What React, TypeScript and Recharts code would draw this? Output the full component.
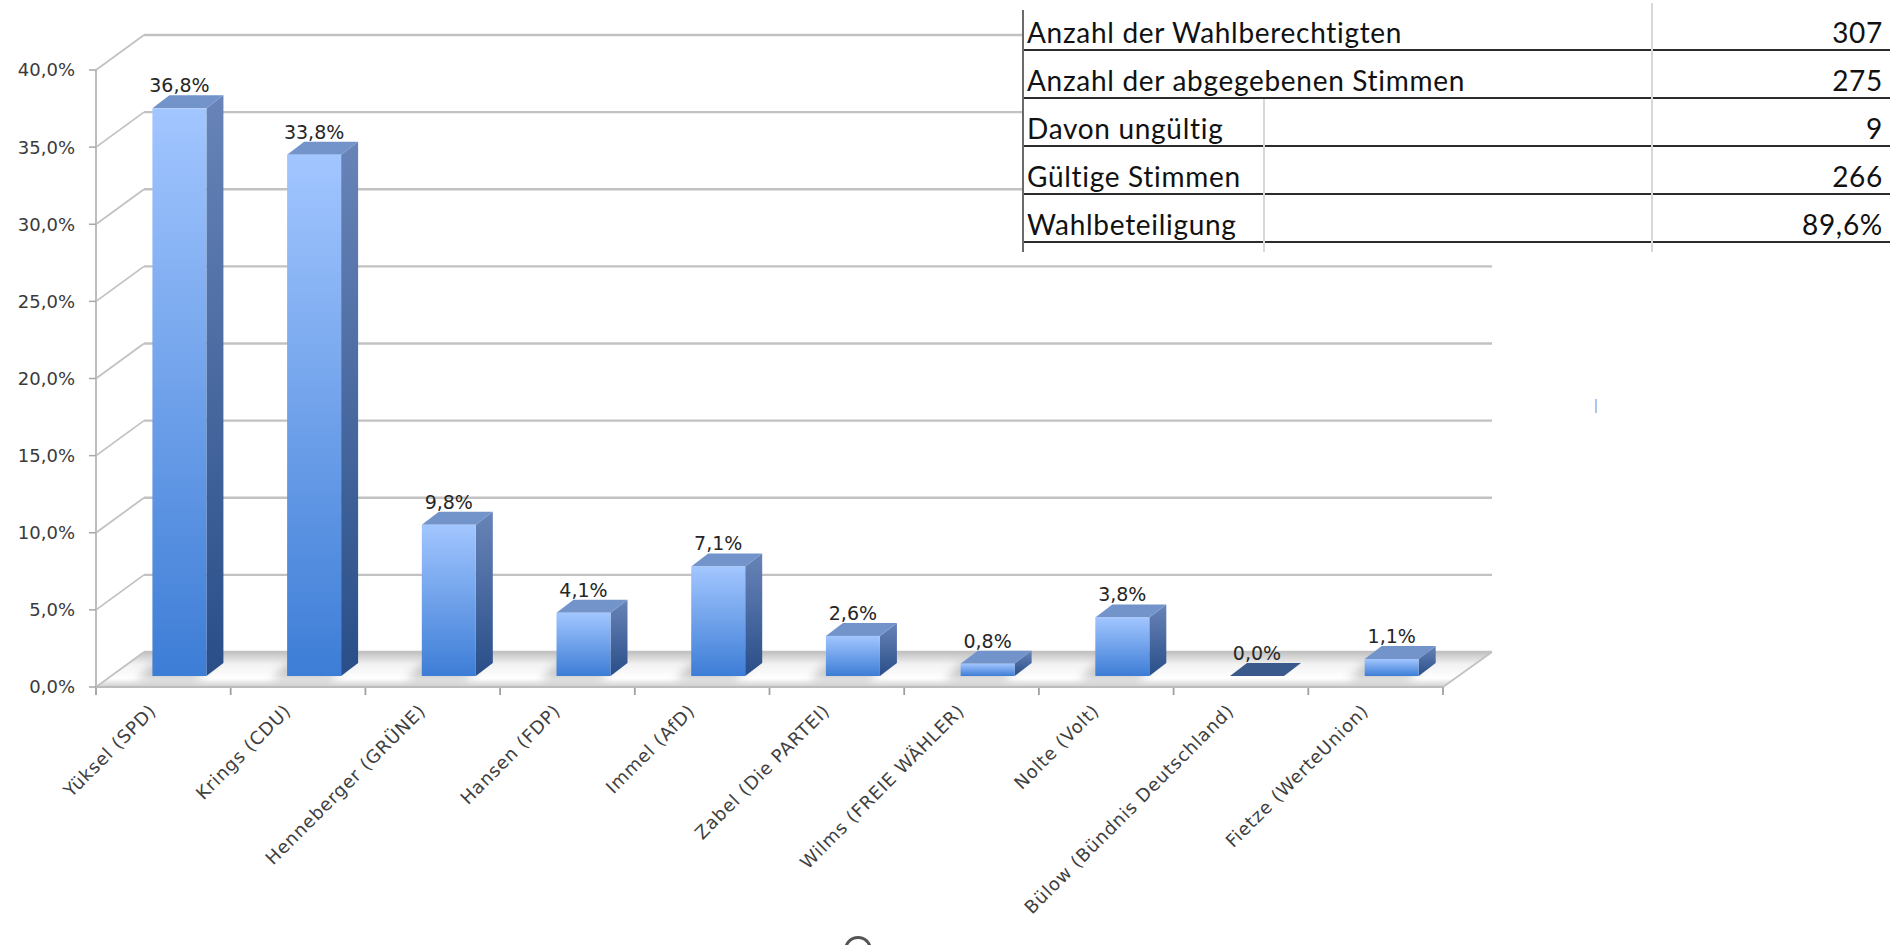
import React from "react";
import { BarChart, Bar, XAxis, YAxis, CartesianGrid } from "recharts";

const candidates = [
  "Yüksel (SPD)",
  "Krings (CDU)",
  "Henneberger (GRÜNE)",
  "Hansen (FDP)",
  "Immel (AfD)",
  "Zabel (Die PARTEI)",
  "Wilms (FREIE WÄHLER)",
  "Nolte (Volt)",
  "Bülow (Bündnis Deutschland)",
  "Fietze (WerteUnion)",
];
const shares = [36.8, 33.8, 9.8, 4.1, 7.1, 2.6, 0.8, 3.8, 0.0, 1.1];
const yTicks = [0, 5, 10, 15, 20, 25, 30, 35, 40];

const tableLabels = [
  "Anzahl der Wahlberechtigten",
  "Anzahl der abgegebenen Stimmen",
  "Davon ungültig",
  "Gültige Stimmen",
  "Wahlbeteiligung",
];
const tableValues = ["307", "275", "9", "266", "89,6%"];

const data = candidates.map((name, i) => ({ name, share: shares[i] }));

const W = 1890;
const H = 945;
const FONT = "'DejaVu Sans', Verdana, sans-serif";
// depth of the back wall and of the bars
const WALL_DX = 48;
const WALL_DY = 35;
const BAR_TX = 16;
const BAR_TY = -11;
const BAR_DX = 17;
const BAR_DY = 13;

const pct = (v: number) => v.toFixed(1).replace(".", ",") + "%";

const GridLine = (p: any) => {
  const { x1, y1, x2, index } = p;
  const bx1 = x1 + WALL_DX;
  const bx2 = x2 + WALL_DX + 1;
  const by = y1 - WALL_DY;
  return (
    <g key={`g-${index}`}>
      {index === 0 && (
        <polygon
          points={`${x1},${y1} ${x2},${y1} ${bx2},${by} ${bx1},${by}`}
          fill="url(#floorGrad)"
        />
      )}
      <line x1={bx1} y1={by} x2={bx2} y2={by} stroke="#c2c2c2" strokeWidth={2.4} />
      <line x1={x1} y1={y1} x2={bx1} y2={by} stroke="#c2c2c2" strokeWidth={1.8} />
      {index === 0 && (
        <line x1={x2} y1={y1} x2={bx2} y2={by} stroke="#c2c2c2" strokeWidth={1.8} />
      )}
    </g>
  );
};

const ok = (n: any) => typeof n === "number" && isFinite(n);

// tick marks sit on the category boundaries, taken from the band scale
const slotEdges = (args: any) => {
  try {
    const ax = args && args.xAxis;
    const s = ax && ax.scale;
    if (s && typeof s.bandwidth === "function") {
      const toX =
        typeof s === "function"
          ? (v: string) => s(v)
          : typeof s.map === "function"
          ? (v: string) => s.map(v)
          : null;
      const bw = s.bandwidth();
      if (toX && ok(bw)) {
        const xs = candidates.map((c) => toX(c));
        if (xs.every(ok)) return [...xs, xs[xs.length - 1] + bw];
      }
    }
    const ticks = ax && ax.ticks;
    if (ticks && ticks.length > 1) {
      const step = ticks[1].coordinate - ticks[0].coordinate;
      const left = args.offset && ok(args.offset.left) ? args.offset.left : ticks[0].coordinate;
      const shift = Math.abs(ticks[0].coordinate - left) < step / 4 ? ticks[0].coordinate - left : step / 2;
      const xs = ticks.map((t: any) => t.coordinate - shift);
      if (xs.every(ok)) return [...xs, xs[xs.length - 1] + step];
    }
  } catch (e) {
    // fall through
  }
  return [];
};

const SlotTick = (p: any) => (
  <line
    key={`v-${p.index}`}
    x1={p.x1}
    y1={p.y2}
    x2={p.x1}
    y2={p.y2 + 8}
    stroke="#a0a0a0"
    strokeWidth={1.8}
  />
);

const Bar3D = (p: any) => {
  const { x, y, width, height, payload } = p;
  const h = Math.max(height || 0, 0);
  const fx = x + BAR_TX;
  const fy = y + BAR_TY;
  const w = width;
  const label = (
    <text
      x={fx + w / 2}
      y={fy - 16}
      textAnchor="middle"
      fontSize={19}
      fontFamily={FONT}
      fill="#262626"
    >
      {pct(payload.share)}
    </text>
  );
  const top = `${fx},${fy} ${fx + w},${fy} ${fx + w + BAR_DX},${fy - BAR_DY} ${fx + BAR_DX},${fy - BAR_DY}`;
  if (h < 1) {
    return (
      <g>
        <polygon points={top} fill="#3b5a8c" />
        {label}
      </g>
    );
  }
  return (
    <g>
      <polygon
        points={`${fx - 16},${fy + h + 4} ${fx + w - 10},${fy + h + 4} ${fx + w + 8},${fy + h - 14} ${fx + 2},${fy + h - 14}`}
        fill="#7a7a7a"
        opacity={0.4}
        filter="url(#soft)"
      />
      <polygon
        points={`${fx + w},${fy} ${fx + w + BAR_DX},${fy - BAR_DY} ${fx + w + BAR_DX},${fy + h - BAR_DY} ${fx + w},${fy + h}`}
        fill="url(#sideGrad)"
      />
      <polygon points={top} fill="#7394cb" />
      <rect x={fx} y={fy} width={w} height={h} fill="url(#frontGrad)" />
      {label}
    </g>
  );
};

const CatTick = ({ x, y, payload }: any) => (
  <g transform={`translate(${x - 6},${y + 17})`}>
    <text
      transform="rotate(-45)"
      textAnchor="end"
      fontSize={18}
      letterSpacing={0.8}
      fontFamily={FONT}
      fill="#404040"
    >
      {payload.value}
    </text>
  </g>
);

export default function App() {
  return (
    <div
      style={{
        position: "absolute",
        left: 0,
        top: 0,
        width: W,
        height: H,
        background: "#fff",
        overflow: "hidden",
      }}
    >
      <BarChart
        width={W}
        height={H}
        data={data}
        margin={{ top: 70, right: 447, bottom: 58, left: 0 }}
        barCategoryGap="30%"
      >
        <defs>
          <linearGradient id="frontGrad" x1="0" y1="0" x2="0" y2="1">
            <stop offset="0%" stopColor="#a2c6ff" />
            <stop offset="100%" stopColor="#3d7dd6" />
          </linearGradient>
          <linearGradient id="sideGrad" x1="0" y1="0" x2="0" y2="1">
            <stop offset="0%" stopColor="#6884b8" />
            <stop offset="100%" stopColor="#294e88" />
          </linearGradient>
          <linearGradient id="floorGrad" x1="0" y1="1" x2="0" y2="0">
            <stop offset="0%" stopColor="#cfcfcf" />
            <stop offset="25%" stopColor="#ffffff" />
            <stop offset="65%" stopColor="#f2f2f2" />
            <stop offset="100%" stopColor="#c2c2c2" />
          </linearGradient>
          <filter id="soft" x="-50%" y="-50%" width="200%" height="200%">
            <feGaussianBlur stdDeviation="5" />
          </filter>
        </defs>
        <CartesianGrid
          xAxisId="cat"
          horizontal={GridLine}
          vertical={SlotTick}
          verticalCoordinatesGenerator={slotEdges}
        />
        <XAxis
          xAxisId="cat"
          dataKey="name"
          height={200}
          interval={0}
          axisLine={{ stroke: "#bcbcbc", strokeWidth: 2.2 }}
          tickLine={false}
          tick={<CatTick />}
        />
        <YAxis
          width={96}
          domain={[0, 40]}
          ticks={yTicks}
          tickFormatter={pct}
          axisLine={{ stroke: "#bdbdbd", strokeWidth: 2 }}
          tickLine={{ stroke: "#a8a8a8", strokeWidth: 1.5 }}
          tickSize={7}
          tickMargin={14}
          tick={{ fontSize: 18, fontFamily: FONT, fill: "#3a3a3a" }}
        />
        <Bar
          xAxisId="cat"
          dataKey="share"
          shape={<Bar3D />}
          isAnimationActive={false}
        />
      </BarChart>

      <div
        style={{
          position: "absolute",
          left: 1022,
          top: 3,
          width: 868,
          height: 248,
          background: "#fff",
          fontFamily: "Lato, 'Open Sans', sans-serif",
          fontSize: 28,
          letterSpacing: 0.7,
          color: "#111",
        }}
      >
        {tableLabels.map((label, i) => (
          <div
            key={label}
            style={{
              height: 48,
              boxSizing: "border-box",
              borderBottom: "2px solid #2b2b2b",
              display: "flex",
              alignItems: "flex-end",
              justifyContent: "space-between",
              padding: "0 7px 1px 5px",
              lineHeight: "31px",
            }}
          >
            <span>{label}</span>
            <span>{tableValues[i]}</span>
          </div>
        ))}
        <div style={{ position: "absolute", left: 0, top: 7, width: 2, height: 242, background: "#6a6a6a" }} />
        <div style={{ position: "absolute", left: 629, top: 0, width: 2, height: 249, background: "#d8d8d8" }} />
        <div style={{ position: "absolute", left: 241, top: 96, width: 2, height: 153, background: "#d8d8d8" }} />
      </div>

      <div style={{ position: "absolute", left: 1595, top: 399, width: 2, height: 14, background: "#a9c8ef" }} />
      <div
        style={{
          position: "absolute",
          left: 844,
          top: 936,
          width: 22,
          height: 22,
          borderRadius: "50%",
          border: "3px solid #555",
        }}
      />
    </div>
  );
}
